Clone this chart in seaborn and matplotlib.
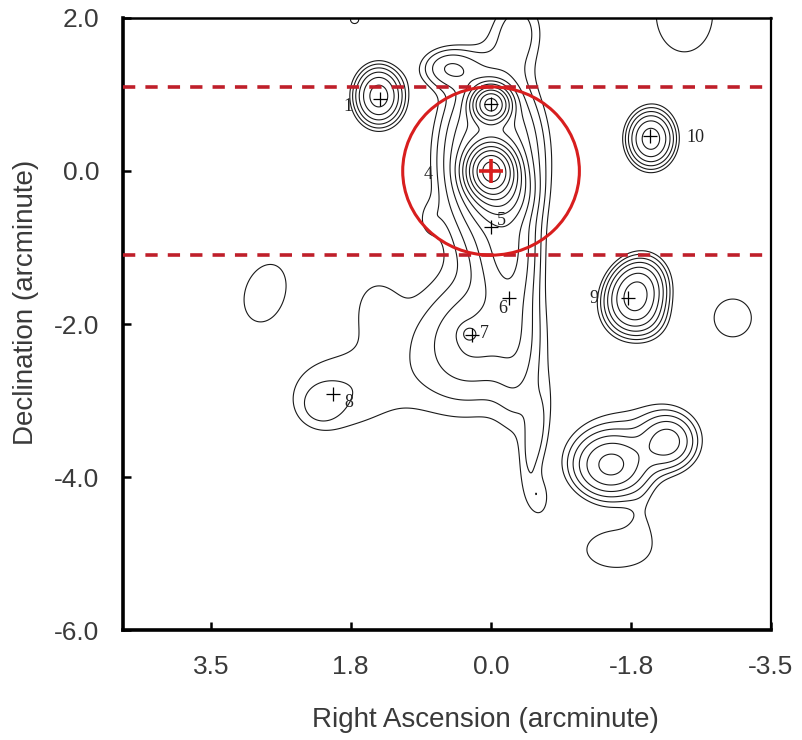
import numpy as np
import matplotlib
matplotlib.use('Agg')
import matplotlib.pyplot as plt
import seaborn as sns
from matplotlib.patches import Ellipse

#######################################
# emission components (arcmin)
#######################################
comp_ra = [0.0, -0.12, 0.0, 0.0, 0.55, -0.35, -0.2, 0.15, 0.3, 2.0, 1.5, 2.19, 0.28,
           -0.35, -0.55, -0.62, 1.44, -2.05, -1.85, -2.0, -1.53, -2.27, -1.9, -1.6, -1.95,
           2.9, -3.1, -2.48, 1.75, 0.8]
comp_dec = [0.0, -0.28, 0.87, 0.15, 1.35, 1.85, -1.1, -2.15, -2.3, -2.9, -1.75, -3.08, -2.13,
            -2.2, -3.6, -4.3, 0.98, 0.42, -1.62, -1.95, -3.85, -3.54, -3.4, -4.95, -4.5,
            -1.58, -1.92, 2.05, 1.98, -0.63]
comp_amp = [60, 8, 28, 6.5, 2.5, 1.6, 2.8, 1.3, 2.0, 1.35, 0.9, 0.75, 2.0,
            1.2, 1.25, 1.15, 7.5, 7.5, 11, 1.5, 6.5, 4.5, 1.0, 1.4, 0.6,
            1.4, 1.4, 1.4, 1.15, 0.7]
comp_sra = [0.16, 0.2, 0.13, 0.4, 0.25, 0.25, 0.25, 0.35, 0.7, 0.6, 0.25, 0.18, 0.07,
            0.2, 0.12, 0.12, 0.185, 0.18, 0.21, 0.2, 0.3, 0.22, 0.6, 0.45, 0.15,
            0.3, 0.29, 0.44, 0.1, 0.12]
comp_sdec = [0.18, 0.22, 0.13, 0.72, 0.18, 0.35, 0.45, 0.4, 0.75, 0.5, 0.35, 0.18, 0.07,
             0.9, 0.5, 0.22, 0.23, 0.22, 0.27, 0.2, 0.26, 0.22, 0.45, 0.28, 0.3,
             0.45, 0.3, 0.6, 0.1, 0.18]
comp_pa = [0, 0, 0, 0, 0, 0, 0, 30, 0, 0, 0, 0, 0,
           0, 10, 0, 0, 0, 20, 0, 0, 0, 0, 0, 0,
           20, 0, 0, 0, 0]

levels = [1.0, 1.45, 2.1, 3.0, 4.3, 6.2, 9.0, 13.0, 19.0, 27.0, 39.0, 56.0, 80.0]

# marked sources
cross_ra = [1.42, 0.0, -0.23, 0.24, 2.03, -1.76, -2.04, 0.0]
cross_dec = [0.94, -0.73, -1.66, -2.15, -2.91, -1.66, 0.46, 0.87]
label_text = ['1', '4', '5', '6', '7', '8', '9', '10']
label_ra = [1.83, 0.81, -0.13, -0.15, 0.08, 1.83, -1.32, -2.62]
label_dec = [0.84, -0.04, -0.65, -1.8, -2.13, -3.03, -1.67, 0.44]

center_ra, center_dec = 0.0, 0.0
beam_radius = 1.1

#######################################
# build the map
#######################################
ra = np.linspace(-3.8, 4.9, 700)
dec = np.linspace(-6.2, 2.6, 700)
RA, DEC = np.meshgrid(ra, dec)
flux = np.zeros_like(RA)
for x0, y0, a, sx, sy, pa in zip(comp_ra, comp_dec, comp_amp, comp_sra, comp_sdec, comp_pa):
    t = np.deg2rad(pa)
    dx = (RA - x0) * np.cos(t) + (DEC - y0) * np.sin(t)
    dy = -(RA - x0) * np.sin(t) + (DEC - y0) * np.cos(t)
    flux += a * np.exp(-0.5 * ((dx / sx) ** 2 + (dy / sy) ** 2))

#######################################
# plot
#######################################
sns.set_theme(style='white')
plt.rcParams['font.family'] = ['Liberation Sans', 'DejaVu Sans']

fig = plt.figure(figsize=(8.02, 7.40), dpi=100)
ax = fig.add_axes([0.1534, 0.1486, 0.8079, 0.8271])

ax.contour(RA, DEC, flux, levels=levels, colors='#1a1a1a', linewidths=0.8)

red = '#d81e1e'
for yy in (beam_radius, -beam_radius):
    ax.axhline(yy, color='#bf1f2a', lw=2.6, ls=(0, (3.4, 2.8)), zorder=3)
ax.add_patch(Ellipse((center_ra, center_dec), 2 * beam_radius * 1.03, 2 * beam_radius,
                     fill=False, ec=red, lw=2.2, zorder=4))

sns.scatterplot(x=cross_ra, y=cross_dec, marker='+', s=110, color='black',
                linewidth=0.9, ax=ax, zorder=5)
sns.scatterplot(x=[center_ra], y=[center_dec], marker='+', s=300, color=red,
                linewidth=2.6, ax=ax, zorder=6)
for t, x, y in zip(label_text, label_ra, label_dec):
    ax.text(x, y, t, fontsize=13, family=['Liberation Serif', 'DejaVu Serif'],
            ha='center', va='center', color='#222222', zorder=6)

ax.set_xlim(4.72, -3.59)
ax.set_ylim(-6.0, 2.0)
ax.set_xticks([3.59, 1.8, 0.0, -1.8, -3.59])
ax.set_xticklabels(['3.5', '1.8', '0.0', '-1.8', '-3.5'])
ax.set_yticks([2.0, 0.0, -2.0, -4.0, -6.0])
ax.set_yticklabels(['2.0', '0.0', '-2.0', '-4.0', '-6.0'])
ax.tick_params(axis='both', direction='in', length=6, width=1.8, color='black',
               labelsize=19, labelcolor='#3a3a3a', bottom=True, left=True)
ax.tick_params(axis='x', pad=18)
ax.tick_params(axis='y', pad=17)

ax.set_xlabel('Right Ascension (arcminute)', fontsize=20, color='#3a3a3a')
ax.set_ylabel('Declination (arcminute)', fontsize=20, color='#3a3a3a')
ax.xaxis.set_label_coords(0.56, -0.125)
ax.yaxis.set_label_coords(-0.13, 0.535)

for side, lw in [('left', 2.6), ('bottom', 2.6), ('top', 1.8), ('right', 1.6)]:
    ax.spines[side].set_visible(True)
    ax.spines[side].set_color('black')
    ax.spines[side].set_linewidth(lw)

fig.savefig('out.png', dpi=100)
